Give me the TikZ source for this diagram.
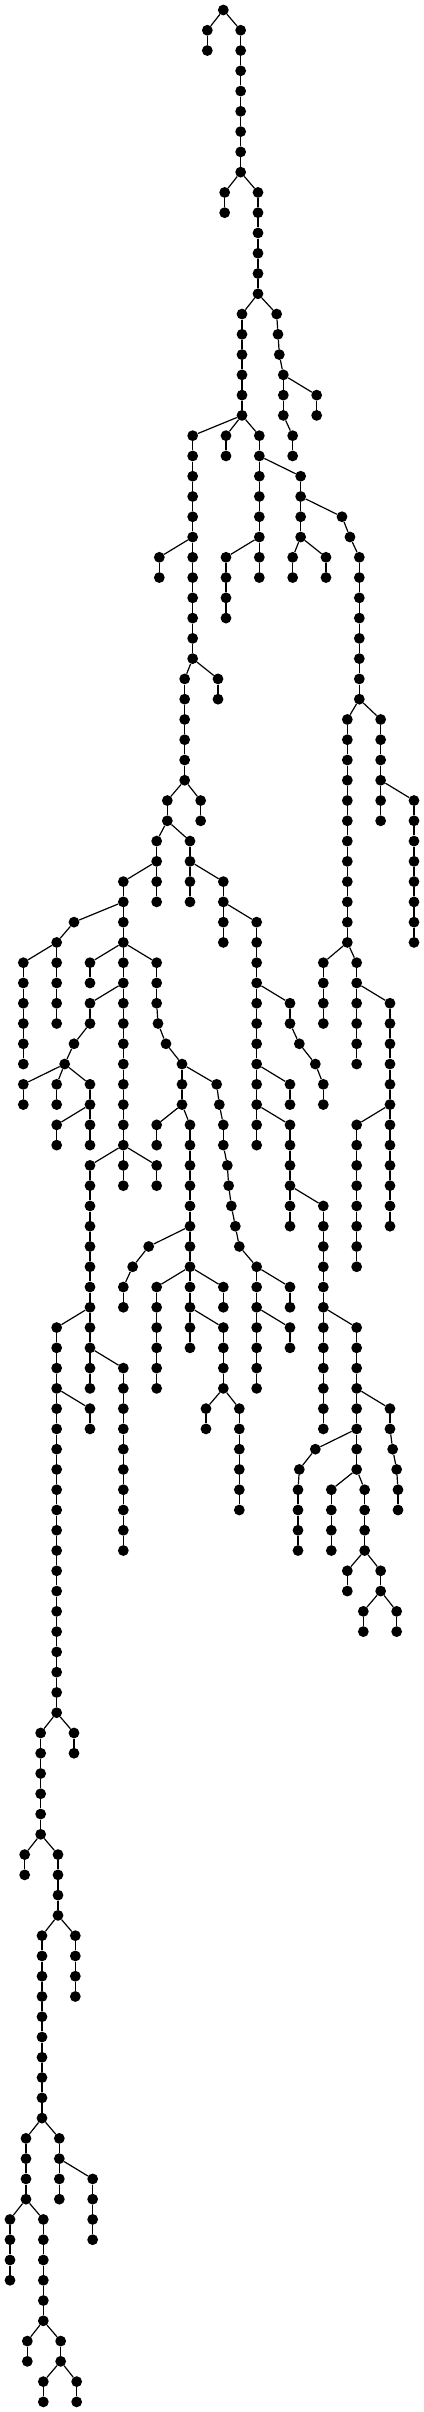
\documentclass[tikz,border=0pt]{standalone}
\usepackage{tikz}

\begin{document}
\begin{tikzpicture}[x=0.33333pt,y=-20.27pt,
        treevert/.style={circle,fill=black,inner sep=0pt,minimum size=10.8pt},
        treeedge/.style={line width=1.2pt,draw=black}]
        \newcommand{\treechain}[3]{%
            \foreach \treelev in {#2,...,#3}{%
                \node[treevert] (v#1-\treelev) at (#1,\treelev) {};
                \ifnum\treelev>#2\relax
                    \pgfmathtruncatemacro{\treeprev}{\treelev-1}
                    \draw[treeedge] (v#1-\treeprev) -- (v#1-\treelev);
                \fi
            }%
        }
        \useasboundingbox (0,-0.4933) rectangle (1272,118.5);
        % vertical runs: x, first level, last level
        \treechain{670}{0}{0}
        \treechain{622}{1}{2}
        \treechain{722}{1}{8}
        \treechain{674}{9}{10}
        \treechain{774}{9}{14}
        \treechain{726}{15}{20}
        \treechain{830}{15}{15}
        \treechain{834}{16}{16}
        \treechain{838}{17}{17}
        \treechain{850}{18}{20}
        \treechain{950}{19}{20}
        \treechain{878}{21}{22}
        \treechain{578}{21}{32}
        \treechain{678}{21}{22}
        \treechain{778}{21}{28}
        \treechain{478}{27}{28}
        \treechain{678}{27}{30}
        \treechain{902}{23}{26}
        \treechain{1026}{25}{25}
        \treechain{1050}{26}{26}
        \treechain{1078}{27}{34}
        \treechain{878}{27}{28}
        \treechain{978}{27}{28}
        \treechain{654}{33}{34}
        \treechain{554}{33}{38}
        \treechain{602}{39}{40}
        \treechain{502}{39}{40}
        \treechain{1042}{35}{46}
        \treechain{1142}{35}{40}
        \treechain{1242}{39}{46}
        \treechain{470}{41}{44}
        \treechain{570}{41}{44}
        \treechain{370}{43}{58}
        \treechain{670}{43}{46}
        \treechain{222}{45}{45}
        \treechain{770}{45}{56}
        \treechain{170}{46}{50}
        \treechain{70}{47}{52}
        \treechain{270}{47}{48}
        \treechain{470}{47}{49}
        \treechain{970}{47}{50}
        \treechain{1070}{47}{52}
        \treechain{270}{49}{50}
        \treechain{870}{49}{50}
        \treechain{1170}{49}{60}
        \treechain{474}{50}{50}
        \treechain{222}{51}{51}
        \treechain{498}{51}{51}
        \treechain{898}{51}{51}
        \treechain{194}{52}{52}
        \treechain{546}{52}{54}
        \treechain{946}{52}{52}
        \treechain{70}{53}{54}
        \treechain{170}{53}{54}
        \treechain{270}{53}{56}
        \treechain{650}{53}{53}
        \treechain{870}{53}{54}
        \treechain{970}{53}{54}
        \treechain{658}{54}{54}
        \treechain{170}{55}{56}
        \treechain{470}{55}{56}
        \treechain{570}{55}{66}
        \treechain{670}{55}{56}
        \treechain{870}{55}{60}
        \treechain{1070}{55}{62}
        \treechain{270}{57}{68}
        \treechain{470}{57}{58}
        \treechain{682}{57}{57}
        \treechain{686}{58}{58}
        \treechain{694}{59}{59}
        \treechain{970}{59}{70}
        \treechain{706}{60}{60}
        \treechain{446}{61}{61}
        \treechain{718}{61}{61}
        \treechain{398}{62}{62}
        \treechain{770}{62}{68}
        \treechain{370}{63}{64}
        \treechain{470}{63}{68}
        \treechain{670}{63}{64}
        \treechain{870}{63}{64}
        \treechain{170}{65}{84}
        \treechain{670}{65}{68}
        \treechain{870}{65}{66}
        \treechain{1070}{65}{72}
        \treechain{370}{67}{76}
        \treechain{270}{69}{70}
        \treechain{618}{69}{70}
        \treechain{718}{69}{74}
        \treechain{1170}{69}{70}
        \treechain{946}{71}{71}
        \treechain{1178}{71}{71}
        \treechain{898}{72}{72}
        \treechain{1190}{72}{72}
        \treechain{894}{73}{76}
        \treechain{994}{73}{76}
        \treechain{1094}{73}{76}
        \treechain{1194}{73}{74}
        \treechain{1042}{77}{78}
        \treechain{1142}{77}{78}
        \treechain{1090}{79}{80}
        \treechain{1190}{79}{80}
        \treechain{122}{85}{90}
        \treechain{222}{85}{86}
        \treechain{74}{91}{92}
        \treechain{174}{91}{94}
        \treechain{126}{95}{104}
        \treechain{226}{95}{98}
        \treechain{78}{105}{108}
        \treechain{178}{105}{108}
        \treechain{278}{107}{110}
        \treechain{30}{109}{112}
        \treechain{130}{109}{114}
        \treechain{82}{115}{116}
        \treechain{182}{115}{116}
        \treechain{130}{117}{118}
        \treechain{230}{117}{118}
        % branches
        \draw[treeedge] (v670-0) -- (v622-1);
        \draw[treeedge] (v670-0) -- (v722-1);
        \draw[treeedge] (v722-8) -- (v674-9);
        \draw[treeedge] (v722-8) -- (v774-9);
        \draw[treeedge] (v774-14) -- (v726-15);
        \draw[treeedge] (v774-14) -- (v830-15);
        \draw[treeedge] (v830-15) -- (v834-16);
        \draw[treeedge] (v834-16) -- (v838-17);
        \draw[treeedge] (v838-17) -- (v850-18);
        \draw[treeedge] (v850-18) -- (v950-19);
        \draw[treeedge] (v850-20) -- (v878-21);
        \draw[treeedge] (v726-20) -- (v578-21);
        \draw[treeedge] (v726-20) -- (v678-21);
        \draw[treeedge] (v726-20) -- (v778-21);
        \draw[treeedge] (v578-26) -- (v478-27);
        \draw[treeedge] (v578-32) -- (v554-33);
        \draw[treeedge] (v578-32) -- (v654-33);
        \draw[treeedge] (v554-38) -- (v502-39);
        \draw[treeedge] (v554-38) -- (v602-39);
        \draw[treeedge] (v502-40) -- (v470-41);
        \draw[treeedge] (v502-40) -- (v570-41);
        \draw[treeedge] (v470-42) -- (v370-43);
        \draw[treeedge] (v370-44) -- (v222-45);
        \draw[treeedge] (v222-45) -- (v170-46);
        \draw[treeedge] (v170-46) -- (v70-47);
        \draw[treeedge] (v370-46) -- (v270-47);
        \draw[treeedge] (v370-46) -- (v470-47);
        \draw[treeedge] (v370-48) -- (v270-49);
        \draw[treeedge] (v270-50) -- (v222-51);
        \draw[treeedge] (v222-51) -- (v194-52);
        \draw[treeedge] (v194-52) -- (v70-53);
        \draw[treeedge] (v194-52) -- (v170-53);
        \draw[treeedge] (v194-52) -- (v270-53);
        \draw[treeedge] (v270-54) -- (v170-55);
        \draw[treeedge] (v370-56) -- (v270-57);
        \draw[treeedge] (v370-56) -- (v470-57);
        \draw[treeedge] (v270-64) -- (v170-65);
        \draw[treeedge] (v170-68) -- (v270-69);
        \draw[treeedge] (v170-84) -- (v122-85);
        \draw[treeedge] (v170-84) -- (v222-85);
        \draw[treeedge] (v122-90) -- (v74-91);
        \draw[treeedge] (v122-90) -- (v174-91);
        \draw[treeedge] (v174-94) -- (v126-95);
        \draw[treeedge] (v174-94) -- (v226-95);
        \draw[treeedge] (v126-104) -- (v78-105);
        \draw[treeedge] (v126-104) -- (v178-105);
        \draw[treeedge] (v78-108) -- (v30-109);
        \draw[treeedge] (v78-108) -- (v130-109);
        \draw[treeedge] (v130-114) -- (v82-115);
        \draw[treeedge] (v130-114) -- (v182-115);
        \draw[treeedge] (v182-116) -- (v130-117);
        \draw[treeedge] (v182-116) -- (v230-117);
        \draw[treeedge] (v178-106) -- (v278-107);
        \draw[treeedge] (v270-66) -- (v370-67);
        \draw[treeedge] (v470-49) -- (v474-50);
        \draw[treeedge] (v474-50) -- (v498-51);
        \draw[treeedge] (v498-51) -- (v546-52);
        \draw[treeedge] (v546-52) -- (v650-53);
        \draw[treeedge] (v546-54) -- (v470-55);
        \draw[treeedge] (v546-54) -- (v570-55);
        \draw[treeedge] (v570-60) -- (v446-61);
        \draw[treeedge] (v446-61) -- (v398-62);
        \draw[treeedge] (v398-62) -- (v370-63);
        \draw[treeedge] (v570-62) -- (v470-63);
        \draw[treeedge] (v570-62) -- (v670-63);
        \draw[treeedge] (v570-64) -- (v670-65);
        \draw[treeedge] (v670-68) -- (v618-69);
        \draw[treeedge] (v670-68) -- (v718-69);
        \draw[treeedge] (v650-53) -- (v658-54);
        \draw[treeedge] (v658-54) -- (v670-55);
        \draw[treeedge] (v670-56) -- (v682-57);
        \draw[treeedge] (v682-57) -- (v686-58);
        \draw[treeedge] (v686-58) -- (v694-59);
        \draw[treeedge] (v694-59) -- (v706-60);
        \draw[treeedge] (v706-60) -- (v718-61);
        \draw[treeedge] (v718-61) -- (v770-62);
        \draw[treeedge] (v770-62) -- (v870-63);
        \draw[treeedge] (v770-64) -- (v870-65);
        \draw[treeedge] (v570-42) -- (v670-43);
        \draw[treeedge] (v670-44) -- (v770-45);
        \draw[treeedge] (v770-48) -- (v870-49);
        \draw[treeedge] (v870-50) -- (v898-51);
        \draw[treeedge] (v898-51) -- (v946-52);
        \draw[treeedge] (v946-52) -- (v970-53);
        \draw[treeedge] (v770-52) -- (v870-53);
        \draw[treeedge] (v770-54) -- (v870-55);
        \draw[treeedge] (v870-58) -- (v970-59);
        \draw[treeedge] (v970-64) -- (v1070-65);
        \draw[treeedge] (v1070-68) -- (v1170-69);
        \draw[treeedge] (v1070-70) -- (v946-71);
        \draw[treeedge] (v946-71) -- (v898-72);
        \draw[treeedge] (v898-72) -- (v894-73);
        \draw[treeedge] (v1070-72) -- (v994-73);
        \draw[treeedge] (v1070-72) -- (v1094-73);
        \draw[treeedge] (v1094-76) -- (v1042-77);
        \draw[treeedge] (v1094-76) -- (v1142-77);
        \draw[treeedge] (v1142-78) -- (v1090-79);
        \draw[treeedge] (v1142-78) -- (v1190-79);
        \draw[treeedge] (v1170-70) -- (v1178-71);
        \draw[treeedge] (v1178-71) -- (v1190-72);
        \draw[treeedge] (v1190-72) -- (v1194-73);
        \draw[treeedge] (v778-22) -- (v902-23);
        \draw[treeedge] (v778-26) -- (v678-27);
        \draw[treeedge] (v902-24) -- (v1026-25);
        \draw[treeedge] (v1026-25) -- (v1050-26);
        \draw[treeedge] (v1050-26) -- (v1078-27);
        \draw[treeedge] (v902-26) -- (v878-27);
        \draw[treeedge] (v902-26) -- (v978-27);
        \draw[treeedge] (v1078-34) -- (v1042-35);
        \draw[treeedge] (v1078-34) -- (v1142-35);
        \draw[treeedge] (v1042-46) -- (v970-47);
        \draw[treeedge] (v1042-46) -- (v1070-47);
        \draw[treeedge] (v1070-48) -- (v1170-49);
        \draw[treeedge] (v1170-54) -- (v1070-55);
        \draw[treeedge] (v1142-38) -- (v1242-39);
\end{tikzpicture}
\end{document}
